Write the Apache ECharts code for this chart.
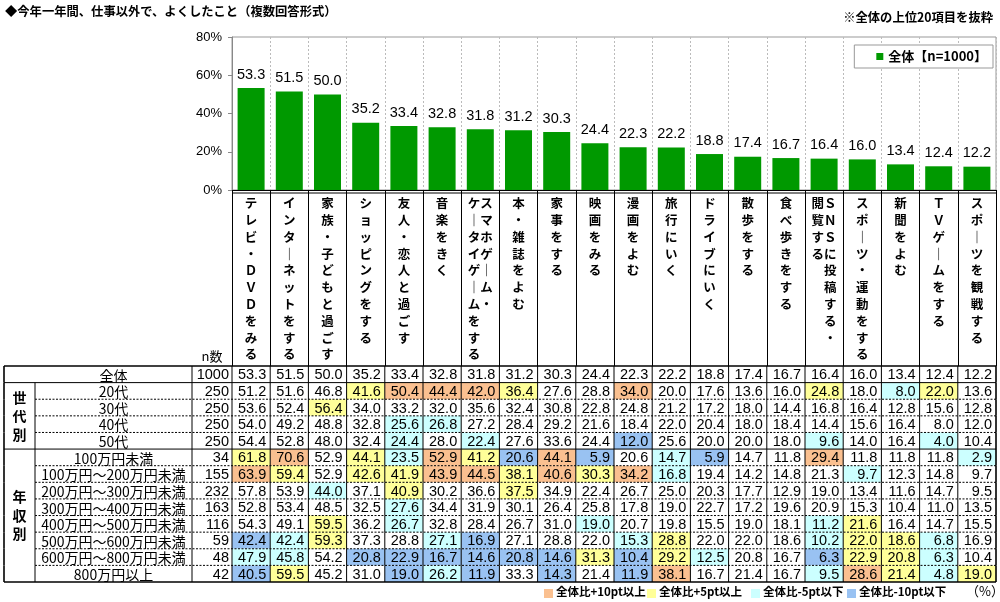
<!DOCTYPE html>
<html><head><meta charset="utf-8">
<script src="https://cdn.jsdelivr.net/npm/echarts@6/dist/echarts.min.js"></script>
<style>html,body{margin:0;padding:0;background:#fff}#c{width:1000px;height:602px}</style>
</head><body><div id="c"></div>
<script>
// ---------- data ----------
const categories = ['テレビ・DVDをみる','インターネットをする','家族・子どもと過ごす','ショッピングをする','友人・恋人と過ごす','音楽をきく','スマホゲーム・ケータイゲームをする','本・雑誌をよむ','家事をする','映画をみる','漫画をよむ','旅行にいく','ドライブにいく','散歩をする','食べ歩きをする','SNSに投稿する・閲覧する','スポーツ・運動をする','新聞をよむ','TVゲームをする','スポーツを観戦する'];
const overall   = [53.3,51.5,50.0,35.2,33.4,32.8,31.8,31.2,30.3,24.4,22.3,22.2,18.8,17.4,16.7,16.4,16.0,13.4,12.4,12.2];
const age20     = [51.2,51.6,46.8,41.6,50.4,44.4,42.0,36.4,27.6,28.8,34.0,20.0,17.6,13.6,16.0,24.8,18.0,8.0,22.0,13.6];
const age30     = [53.6,52.4,56.4,34.0,33.2,32.0,35.6,32.4,30.8,22.8,24.8,21.2,17.2,18.0,14.4,16.8,16.4,12.8,15.6,12.8];
const age40     = [54.0,49.2,48.8,32.8,25.6,26.8,27.2,28.4,29.2,21.6,18.4,22.0,20.4,18.0,18.4,14.4,15.6,16.4,8.0,12.0];
const age50     = [54.4,52.8,48.0,32.4,24.4,28.0,22.4,27.6,33.6,24.4,12.0,25.6,20.0,20.0,18.0,9.6,14.0,16.4,4.0,10.4];
const incUnder100 = [61.8,70.6,52.9,44.1,23.5,52.9,41.2,20.6,44.1,5.9,20.6,14.7,5.9,14.7,11.8,29.4,11.8,11.8,11.8,2.9];
const inc100_200  = [63.9,59.4,52.9,42.6,41.9,43.9,44.5,38.1,40.6,30.3,34.2,16.8,19.4,14.2,14.8,21.3,9.7,12.3,14.8,9.7];
const inc200_300  = [57.8,53.9,44.0,37.1,40.9,30.2,36.6,37.5,34.9,22.4,26.7,25.0,20.3,17.7,12.9,19.0,13.4,11.6,14.7,9.5];
const inc300_400  = [52.8,53.4,48.5,32.5,27.6,34.4,31.9,30.1,26.4,25.8,17.8,19.0,22.7,17.2,19.6,20.9,15.3,10.4,11.0,13.5];
const inc400_500  = [54.3,49.1,59.5,36.2,26.7,32.8,28.4,26.7,31.0,19.0,20.7,19.8,15.5,19.0,18.1,11.2,21.6,16.4,14.7,15.5];
const inc500_600  = [42.4,42.4,59.3,37.3,28.8,27.1,16.9,27.1,28.8,22.0,15.3,28.8,22.0,22.0,18.6,10.2,22.0,18.6,6.8,16.9];
const inc600_800  = [47.9,45.8,54.2,20.8,22.9,16.7,14.6,20.8,14.6,31.3,10.4,29.2,12.5,20.8,16.7,6.3,22.9,20.8,6.3,10.4];
const incOver800  = [40.5,59.5,45.2,31.0,19.0,26.2,11.9,33.3,14.3,21.4,11.9,38.1,16.7,21.4,16.7,9.5,28.6,21.4,4.8,19.0];
const rowNames = ['全体','20代','30代','40代','50代','100万円未満','100万円～200万円未満','200万円～300万円未満','300万円～400万円未満','400万円～500万円未満','500万円～600万円未満','600万円～800万円未満','800万円以上'];
const rowN = [1000,250,250,250,250,34,155,232,163,116,59,48,42];
const groupNames = ['世代別','年収別'];
const groupStart = [1,5];
const groupEnd   = [4,12];
const yTickLabels = ['0%','20%','40%','60%','80%'];
const seriesName = '全体【n=1000】';
const legendLabels = ['全体比+10pt以上','全体比+5pt以上','全体比-5pt以下','全体比-10pt以下'];

const tableRows = [overall,age20,age30,age40,age50,incUnder100,inc100_200,inc200_300,inc300_400,inc400_500,inc500_600,inc600_800,incOver800];

// ---------- style / layout ----------
const JP = '"Noto Sans CJK JP","Noto Sans",sans-serif';
const NUM = '"Liberation Sans",Arial,sans-serif';
const GREEN = '#009900';
const ORANGE = '#FAC090', YELLOW = '#FFFF99', LBLUE = '#CCFFFF', DBLUE = '#99C2F2';
const legendColors = [ORANGE, YELLOW, LBLUE, DBLUE];
const DATA_LEFT = 232, RIGHT_GAP = 4;
const TL = 4, GCOL = 35, NCOL = 192;
const BAR_TOP = 37, BAR_H = 153;
const TAB_TOP = 366, TAB_H = 216;

function vert(s){
  s = s.replace(/ー/g,'｜').replace(/[A-Z]/g, ch => String.fromCharCode(ch.charCodeAt(0)+0xFEE0));
  let cols = [s];
  if (s.length > 10) { const i = s.lastIndexOf('・'); cols = [s.slice(i+1), s.slice(0,i+1)]; }
  const n = Math.max(...cols.map(c => c.length));
  const lines = [];
  for (let k = 0; k < n; k++) lines.push(cols.map(c => c[k] || '　').join(''));
  return lines.join('\n');
}
function cellColor(r, c, v){
  if (r === 0) return null;
  const d = Math.round((v - overall[c]) * 10) / 10;
  if (d >= 10) return ORANGE;
  if (d >= 5) return YELLOW;
  if (d <= -10) return DBLUE;
  if (d <= -5) return LBLUE;
  return null;
}
function ln(x1,y1,x2,y2,kind){
  const st = {stroke:'#000', lineWidth: kind==='frame'?1.6:1};
  if (kind==='dash') { st.lineDash=[2,1.5]; st.lineWidth=1; }
  return {type:'line', z2:10, shape:{x1,y1,x2,y2}, style:st};
}
const cellData = [];
tableRows.forEach((row, r) => row.forEach((v, c) => cellData.push([c, r, v])));
const NC = categories.length, NR = rowNames.length;

function renderItem(params, api){
  const c = api.value(0), r = api.value(1), v = api.value(2);
  const ctr = api.coord([c, r]);
  const sz = api.size([1, 1]);
  const w = sz[0], h = sz[1];
  const x0 = ctr[0] - w/2, y0 = ctr[1] - h/2;
  const kids = [];
  const fill = cellColor(r, c, v);
  if (fill) kids.push({type:'rect', z2:0, shape:{x:x0, y:y0, width:w, height:h}, style:{fill}});
  kids.push({type:'text', z2:5, style:{text:v.toFixed(1), x:x0+w-4, y:ctr[1]+1, align:'right', verticalAlign:'middle', fontSize:14.5, fontFamily:NUM, fill:'#000'}});
  kids.push(ln(x0, y0, x0, y0+h, 'solid'));
  if (c === NC-1) kids.push(ln(x0+w, y0, x0+w, y0+h, 'frame'));
  if (c === 0) {
    const right = x0 + w*NC;
    const gi = groupStart.indexOf(r);
    if (r === 0) kids.push(ln(TL, y0, right, y0, 'frame'));
    else if (gi >= 0) kids.push(ln(TL, y0, right, y0, 'solid'));
    else kids.push(ln(GCOL, y0, right, y0, 'dash'));
    if (r === NR-1) kids.push(ln(TL, y0+h, right, y0+h, 'frame'));
    kids.push(ln(TL, y0, TL, y0+h, 'frame'));
    if (r > 0) kids.push(ln(GCOL, y0, GCOL, y0+h, 'solid'));
    kids.push(ln(NCOL, y0, NCOL, y0+h, 'solid'));
    kids.push({type:'text', z2:5, style:{text:rowNames[r], x:(GCOL+NCOL)/2, y:ctr[1]+1, align:'center', verticalAlign:'middle', fontSize:14, fontFamily:JP, fill:'#000'}});
    kids.push({type:'text', z2:5, style:{text:String(rowN[r]), x:x0-3, y:ctr[1]+1, align:'right', verticalAlign:'middle', fontSize:14.5, fontFamily:NUM, fill:'#000'}});
    if (r === 0) kids.push({type:'text', z2:5, style:{text:'n数', x:(NCOL+x0)/2, y:y0-10, align:'center', verticalAlign:'middle', fontSize:13, fontFamily:JP, fill:'#000'}});
    if (gi >= 0) {
      const span = groupEnd[gi] - groupStart[gi] + 1;
      kids.push({type:'text', z2:5, style:{text:groupNames[gi].split('').join('\n'), x:(TL+GCOL)/2, y:y0 + span*h/2, align:'center', verticalAlign:'middle', fontSize:14, lineHeight:18.5, fontWeight:'bold', fontFamily:JP, fill:'#000'}});
    }
  }
  return {type:'group', children:kids};
}

// bottom legend graphics
const legendX = [544, 647, 751, 847];
const graphics = [];
legendLabels.forEach((t, i) => {
  graphics.push({type:'rect', left:legendX[i], top:589, shape:{width:9, height:9}, style:{fill:legendColors[i]}});
  graphics.push({type:'text', left:legendX[i]+12, top:586, style:{text:t, font:'bold 11.5px '+JP, fill:'#000'}});
});
graphics.push({type:'text', left:966, top:585, style:{text:'（%）', font:'13px '+JP, fill:'#000'}});
graphics.push({type:'text', left:5, top:5, style:{text:'◆今年一年間、仕事以外で、よくしたこと（複数回答形式）', font:'bold 12.3px '+JP, fill:'#000'}});
graphics.push({type:'text', right:7, top:11, style:{text:'※全体の上位20項目を抜粋', font:'bold 12.3px '+JP, fill:'#000'}});
graphics.push({type:'line', shape:{x1:DATA_LEFT, y1:BAR_TOP+BAR_H+3, x2:1000-RIGHT_GAP, y2:BAR_TOP+BAR_H+3}, style:{stroke:'#000', lineWidth:1}});

const chart = echarts.init(document.getElementById('c'));
chart.setOption({
  animation:false,
  backgroundColor:'#fff',
  textStyle:{fontFamily:JP},
  legend:{data:[seriesName], right:7, top:45, orient:'horizontal', padding:[5,6,5,22], itemWidth:7, itemHeight:7, icon:'rect', borderColor:'#999', borderWidth:1, backgroundColor:'#fff',
    textStyle:{fontSize:13, fontWeight:'bold', fontFamily:JP, color:'#000'}},
  grid:[
    {left:DATA_LEFT, right:RIGHT_GAP, top:BAR_TOP, height:BAR_H, show:true, borderColor:'#999', borderWidth:1},
    {left:DATA_LEFT, right:RIGHT_GAP, top:TAB_TOP, height:TAB_H}
  ],
  xAxis:[
    {type:'category', gridIndex:0, data:categories,
     axisLine:{lineStyle:{color:'#000', width:1}},
     axisTick:{show:true, interval:0, length:TAB_TOP-(BAR_TOP+BAR_H), lineStyle:{color:'#000'}},
     splitLine:{show:true, interval:0, lineStyle:{color:'#bbb', type:[2,2]}},
     axisLabel:{interval:0, margin:5, formatter:vert, fontSize:12.5, lineHeight:16.8, fontWeight:'bold', fontFamily:JP, color:'#000', align:'center', verticalAlign:'top'}},
    {type:'category', gridIndex:1, data:categories, show:false}
  ],
  yAxis:[
    {type:'value', gridIndex:0, min:0, max:80, interval:20,
     axisLine:{show:true, lineStyle:{color:'#888'}}, axisTick:{show:true, length:4, lineStyle:{color:'#888'}},
     splitLine:{show:false},
     axisLabel:{margin:10, fontSize:13, fontFamily:NUM, color:'#000', formatter:(v)=>yTickLabels[v/20]}},
    {type:'category', gridIndex:1, data:rowNames, inverse:true, show:false}
  ],
  graphic:graphics,
  series:[
    {name:seriesName, type:'bar', xAxisIndex:0, yAxisIndex:0, data:overall, barWidth:27,
     itemStyle:{color:GREEN},
     label:{show:true, position:'top', distance:6, fontSize:14.5, fontFamily:NUM, color:'#000', formatter:(p)=>p.value.toFixed(1)}},
    {type:'custom', xAxisIndex:1, yAxisIndex:1, data:cellData, renderItem:renderItem, clip:false, encode:{x:0, y:1}, silent:true}
  ]
});
</script></body></html>
